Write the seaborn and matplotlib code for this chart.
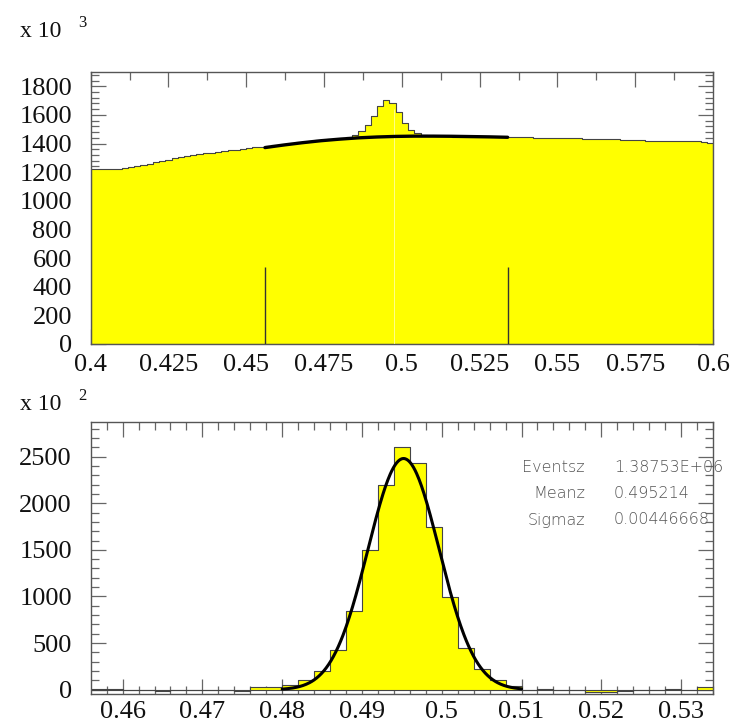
import numpy as np
import pandas as pd
import matplotlib
matplotlib.use("Agg")
import matplotlib.pyplot as plt
import seaborn as sns

# top panel: full mass spectrum, 100 bins of 0.002 from 0.4 to 0.6 (units of 10^3)
top_counts = [
    1222, 1222, 1223, 1223, 1224, 1226, 1233, 1242, 1251, 1260,
    1269, 1278, 1287, 1296, 1304, 1312, 1319, 1325, 1331, 1337,
    1342, 1348, 1353, 1358, 1363, 1368, 1373, 1378, 1383, 1388,
    1393, 1398, 1403, 1408, 1413, 1418, 1422, 1426, 1430, 1434,
    1438, 1444, 1462, 1485, 1530, 1595, 1665, 1702, 1686, 1619,
    1545, 1494, 1472, 1460, 1453, 1450, 1450, 1450, 1449, 1449,
    1448, 1448, 1447, 1447, 1446, 1446, 1445, 1445, 1444, 1444,
    1443, 1442, 1442, 1441, 1440, 1439, 1438, 1437, 1436, 1435,
    1434, 1433, 1431, 1430, 1429, 1427, 1426, 1424, 1423, 1421,
    1420, 1419, 1418, 1418, 1417, 1417, 1416, 1415, 1411, 1405,
]
# background fit over the signal window
bkg_fit_x = [0.456, 0.462, 0.468, 0.474, 0.480, 0.486, 0.492,
             0.498, 0.504, 0.510, 0.516, 0.522, 0.528, 0.534]
bkg_fit_y = [1372, 1390, 1406, 1420, 1431, 1440, 1446,
             1450, 1452, 1452, 1451, 1449, 1447, 1444]
# window markers
window_edges = [0.456, 0.534]
window_height = [540, 540]
# faint light seam seen in the filled area
seam_x = [0.4976]
seam_top = [1640]

top_xticks = [0.4, 0.425, 0.45, 0.475, 0.5, 0.525, 0.55, 0.575, 0.6]
top_xlabels = ["0.4", "0.425", "0.45", "0.475", "0.5", "0.525", "0.55", "0.575", "0.6"]
top_yticks = [0, 200, 400, 600, 800, 1000, 1200, 1400, 1600, 1800]

# bottom panel: background subtracted peak, 39 bins of 0.002 from 0.456 (units of 10^2)
sub_counts = [
    12, 10, 2, -5, -12, 0, -3, 0, -2, -10,
    25, 28, 55, 110, 205, 430, 840, 1500, 2200, 2600,
    2430, 1740, 990, 450, 225, 100, 36, 0, 10, 0,
    -5, -20, -20, -8, 0, 0, 10, 0, 32,
]
fit_events = 1.38753e6
fit_mean = 0.495214
fit_sigma = 0.00446668
stat_names = ["Eventsz", "Meanz", "Sigmaz"]
stat_values = ["1.38753E+06", "0.495214", "0.00446668"]

bot_xticks = [0.46, 0.47, 0.48, 0.49, 0.5, 0.51, 0.52, 0.53]
bot_xlabels = ["0.46", "0.47", "0.48", "0.49", "0.5", "0.51", "0.52", "0.53"]
bot_yticks = [0, 500, 1000, 1500, 2000, 2500]

SERIF = ["Liberation Serif", "DejaVu Serif"]


def style_axis(ax, major_len=10, minor_len=5):
    for sp in ax.spines.values():
        sp.set_color("#555555")
        sp.set_linewidth(1.0)
        sp.set_visible(True)
    ax.tick_params(which="both", direction="in", top=True, right=True,
                   color="#666666", width=0.9, labelsize=19, labelcolor="#111111")
    ax.tick_params(which="major", length=major_len)
    ax.tick_params(which="minor", length=minor_len)
    for lbl in ax.get_xticklabels() + ax.get_yticklabels():
        lbl.set_fontfamily(SERIF)
        lbl.set_fontsize(19)
    ax.set_xlabel("")
    ax.set_ylabel("")


def main():
    sns.set_style("ticks")
    plt.rcParams["font.family"] = SERIF

    fig = plt.figure(figsize=(7.48, 7.27), dpi=100)
    W, H = 748.0, 727.0
    ax1 = fig.add_axes([90.7 / W, 1 - 344 / H, (713 - 90.7) / W, 272 / H])
    ax2 = fig.add_axes([90.7 / W, 1 - 694 / H, (713 - 90.7) / W, 272 / H])

    # ---- top panel
    top_centers = 0.401 + 0.002 * np.arange(len(top_counts))
    top_df = pd.DataFrame({"m": top_centers, "n": top_counts})
    sns.histplot(data=top_df, x="m", weights="n", binwidth=0.002, binrange=(0.4, 0.6),
                 element="step", fill=True, color="#ffff00", alpha=1,
                 edgecolor="#444444", linewidth=0.8, ax=ax1)
    ax1.vlines(seam_x, 0, seam_top, color="#ffffa0", linewidth=0.6, zorder=3)
    sns.lineplot(x=bkg_fit_x, y=bkg_fit_y, color="black", linewidth=2.4, ax=ax1, zorder=5)
    ax1.vlines(window_edges, 0, window_height, color="#333333", linewidth=1.0, zorder=4)
    ax1.set_xlim(0.4, 0.6)
    ax1.set_ylim(0, 1900)
    ax1.set_xticks(top_xticks)
    ax1.set_xticklabels(top_xlabels)
    ax1.set_xticks(np.arange(0.4125, 0.6, 0.025), minor=True)
    ax1.set_yticks(top_yticks)
    ax1.set_yticks(np.arange(0, 1900, 40), minor=True)
    style_axis(ax1, 11, 6)
    ax1.tick_params(axis="y", pad=13.5)
    ax1.tick_params(axis="x", pad=7.5)

    # ---- bottom panel
    bot_centers = 0.457 + 0.002 * np.arange(len(sub_counts))
    bot_df = pd.DataFrame({"m": bot_centers, "n": sub_counts})
    sns.histplot(data=bot_df, x="m", weights="n", binwidth=0.002, binrange=(0.456, 0.534),
                 element="step", fill=True, color="#ffff00", alpha=1,
                 edgecolor="#444444", linewidth=0.8, ax=ax2)
    # gaussian fit from the quoted fit parameters
    gx = np.linspace(0.48, 0.51, 300)
    amp = fit_events * 0.002 / (fit_sigma * np.sqrt(2 * np.pi)) / 100
    gy = amp * np.exp(-0.5 * ((gx - fit_mean) / fit_sigma) ** 2)
    sns.lineplot(x=gx, y=gy, color="black", linewidth=2.2, ax=ax2, zorder=5)
    ax2.set_xlim(0.456, 0.534)
    ax2.set_ylim(-45, 2870)
    ax2.set_xticks(bot_xticks)
    ax2.set_xticklabels(bot_xlabels)
    ax2.set_xticks(np.arange(0.458, 0.534, 0.002), minor=True)
    ax2.set_yticks(bot_yticks)
    ax2.set_yticks(np.arange(0, 2870, 100), minor=True)
    style_axis(ax2, 11, 6)
    ax2.tick_params(axis="y", pad=13.5)
    ax2.tick_params(axis="x", pad=5)

    # stats box
    for i, (name, val) in enumerate(zip(stat_names, stat_values)):
        y = 1 - (468 + 26 * i) / H
        fig.text(585 / W, y, name, ha="right", va="center", fontsize=11.5,
                 color="#555555", family="DejaVu Sans", fontweight="light")
        fig.text(614 / W, y, val, ha="left", va="center", fontsize=11.5,
                 color="#555555", family="DejaVu Sans", fontweight="light")

    # scale factors
    for base_y, expo in [(37, "3"), (410, "2")]:
        fig.text(20 / W, 1 - base_y / H, "x 10", ha="left", va="baseline",
                 fontsize=17, family=SERIF, color="#111111")
        fig.text(78 / W, 1 - (base_y - 10) / H, expo, ha="left", va="baseline",
                 fontsize=12, family=SERIF, color="#111111")

    fig.savefig("out.png", dpi=100)
    plt.close(fig)


if __name__ == "__main__":
    main()
